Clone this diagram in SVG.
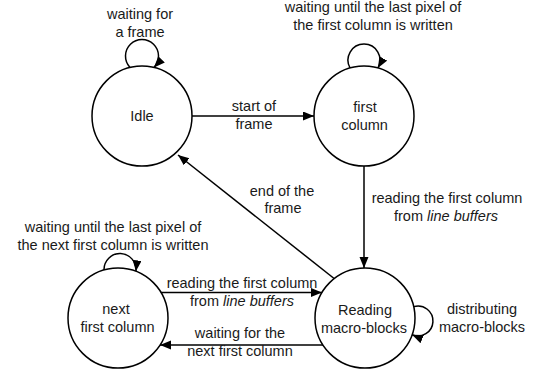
<svg xmlns="http://www.w3.org/2000/svg" width="535" height="375" viewBox="0 0 535 375">
<style>
.node{fill:#fff;stroke:#000;stroke-width:1.5}
.edge{fill:none;stroke:#000;stroke-width:1.5}
text{font-family:"Liberation Sans",Arial,sans-serif;font-size:14.5px;fill:#1a1a1a;text-anchor:middle}
.it{font-style:italic}
</style>
<defs>
<marker id="arr" markerWidth="12" markerHeight="10" refX="11" refY="4.5" orient="auto" markerUnits="userSpaceOnUse">
<path d="M0,0 L11,4.5 L0,9 z" fill="#000"/>
</marker>
</defs>
<rect width="535" height="375" fill="#fff"/>
<g id="connectors">
<path class="edge" d="M192,116 L314,116" marker-end="url(#arr)"/>
<path class="edge" d="M364,166 L364,268" marker-end="url(#arr)"/>
<path class="edge" d="M336,280 L178,155" marker-end="url(#arr)"/>
<path class="edge" d="M160,292.5 L322,292.5" marker-end="url(#arr)"/>
<path class="edge" d="M323,345 L160,345" marker-end="url(#arr)"/>
<path class="edge" d="M130,67.4 A16.5,16.5 0 1 1 154,67.4" marker-end="url(#arr)"/>
<path class="edge" d="M350.1,68 A16,16 0 1 1 377.9,68" marker-end="url(#arr)"/>
<path class="edge" d="M104,270 A16,16 0 1 1 135.9,271.3" marker-end="url(#arr)"/>
<path class="edge" d="M413.7,306.6 A15,15 0 1 1 412.1,334.8" marker-end="url(#arr)"/>
<text x="254" y="111">start of</text>
<text x="254" y="129">frame</text>
<text x="282" y="196">end of the</text>
<text x="283" y="213">frame</text>
<text x="447" y="203">reading the first column</text>
<text x="446" y="221">from <tspan class="it">line buffers</tspan></text>
<text x="242" y="288">reading the first column</text>
<text x="242" y="306">from <tspan class="it">line buffers</tspan></text>
<text x="240" y="338">waiting for the</text>
<text x="240" y="356">next first column</text>
<text x="482" y="314">distributing</text>
<text x="482" y="332">macro-blocks</text>
<text x="140" y="18.5">waiting for</text>
<text x="140" y="36.5">a frame</text>
<text x="373" y="11.5">waiting until the last pixel of</text>
<text x="373" y="30">the first column is written</text>
<text x="113" y="232">waiting until the last pixel of</text>
<text x="113" y="250">the next first column is written</text>
</g>
<g id="idle">
<circle class="node" cx="142" cy="116" r="50"/>
<text x="142" y="121">Idle</text>
</g>
<g id="first-column">
<circle class="node" cx="364" cy="116" r="50"/>
<text x="365" y="111.5">first</text>
<text x="364.5" y="130">column</text>
</g>
<g id="next-first-column">
<circle class="node" cx="118" cy="318" r="50"/>
<text x="116" y="314">next</text>
<text x="117.5" y="332">first column</text>
</g>
<g id="reading-macro-blocks">
<circle class="node" cx="365" cy="318" r="50"/>
<text x="365" y="315">Reading</text>
<text x="364" y="333">macro-blocks</text>
</g>
</svg>
